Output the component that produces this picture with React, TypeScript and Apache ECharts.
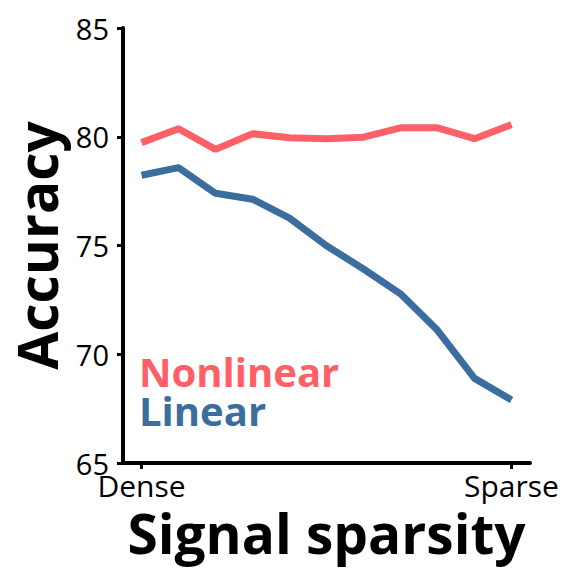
import React, { useEffect, useRef } from "react";
import * as echarts from "echarts";

const xCategories = ["0", "1", "2", "3", "4", "5", "6", "7", "8", "9", "10"];
const xTickLabels: Record<number, string> = { 0: "Dense", 10: "Sparse" };
const nonlinear = [79.73, 80.37, 79.42, 80.14, 79.95, 79.91, 79.98, 80.41, 80.41, 79.91, 80.56];
const linear = [78.23, 78.58, 77.4, 77.13, 76.26, 74.99, 73.92, 72.78, 71.1, 68.89, 67.9];
const yMin = 65;
const yMax = 85;
const yStep = 5;

const RED = "#FD6067";
const BLUE = "#3B6D9E";
const FONT = "Open Sans";

export default function App() {
  const ref = useRef<HTMLDivElement>(null);
  useEffect(() => {
    if (!ref.current) return;
    const chart = echarts.init(ref.current, undefined, { renderer: "svg" });
    const showIdx = (i: number) => i === 0 || i === xCategories.length - 1;
    chart.setOption({
      animation: false,
      backgroundColor: "#ffffff",
      grid: { left: 123, right: 52, top: 28, bottom: 119, containLabel: false },
      xAxis: {
        type: "category",
        data: xCategories,
        boundaryGap: true,
        name: "Signal sparsity",
        nameLocation: "middle",
        nameGap: 34,
        nameTextStyle: { fontFamily: FONT, fontWeight: "bold", fontSize: 55, color: "#000", lineHeight: 44 },
        axisLine: { show: true, lineStyle: { color: "#000", width: 4 } },
        axisTick: {
          show: true,
          alignWithLabel: true,
          interval: (i: number) => showIdx(i),
          length: 6,
          lineStyle: { color: "#000", width: 3 },
        },
        axisLabel: {
          interval: (i: number) => showIdx(i),
          formatter: (_v: string, i: number) => xTickLabels[i] ?? "",
          fontFamily: FONT,
          fontSize: 30,
          lineHeight: 26,
          color: "#000",
          margin: 9,
        },
        splitLine: { show: false },
      },
      yAxis: {
        type: "value",
        min: yMin,
        max: yMax,
        interval: yStep,
        name: "Accuracy",
        nameLocation: "middle",
        nameGap: 64,
        nameRotate: 90,
        nameTextStyle: { fontFamily: FONT, fontWeight: "bold", fontSize: 55, color: "#000", lineHeight: 46 },
        axisLine: { show: true, lineStyle: { color: "#000", width: 4 } },
        axisTick: { show: true, length: 6, lineStyle: { color: "#000", width: 3 } },
        axisLabel: { fontFamily: FONT, fontSize: 29, color: "#000", margin: 14 },
        splitLine: { show: false },
      },
      series: [
        {
          name: "Nonlinear",
          type: "line",
          data: nonlinear,
          showSymbol: false,
          symbol: "none",
          lineStyle: { color: RED, width: 7 },
          itemStyle: { color: RED },
        },
        {
          name: "Linear",
          type: "line",
          data: linear,
          showSymbol: false,
          symbol: "none",
          lineStyle: { color: BLUE, width: 7 },
          itemStyle: { color: BLUE },
        },
      ],
      graphic: [
        {
          type: "text",
          x: 139,
          y: 371,
          style: {
            text: "Nonlinear",
            fill: RED,
            font: `bold 40px "${FONT}"`,
            lineHeight: 34,
            verticalAlign: "middle",
          },
        },
        {
          type: "text",
          x: 139,
          y: 410,
          style: {
            text: "Linear",
            fill: BLUE,
            font: `bold 40px "${FONT}"`,
            lineHeight: 34,
            verticalAlign: "middle",
          },
        },
      ],
    });
    return () => chart.dispose();
  }, []);
  return (
    <div
      ref={ref}
      style={{ position: "absolute", left: 0, top: 0, width: 582, height: 582, background: "#fff" }}
    />
  );
}
